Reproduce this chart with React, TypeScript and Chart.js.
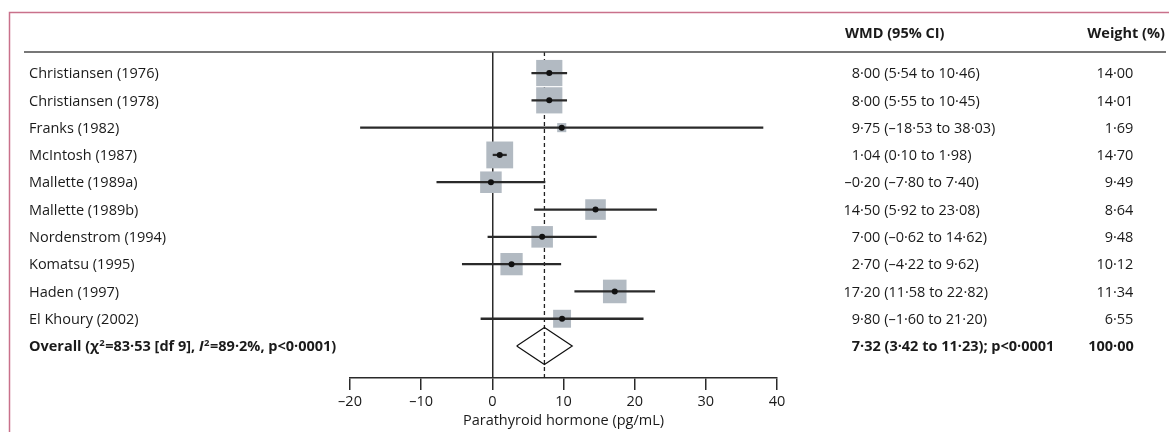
import React, { useEffect, useRef } from 'react';
import { Chart, registerables } from 'chart.js';

Chart.register(...registerables);

// ---------- data ----------
const studies = [
  'Christiansen (1976)',
  'Christiansen (1978)',
  'Franks (1982)',
  'McIntosh (1987)',
  'Mallette (1989a)',
  'Mallette (1989b)',
  'Nordenstrom (1994)',
  'Komatsu (1995)',
  'Haden (1997)',
  'El Khoury (2002)',
];
const wmd = [8.0, 8.0, 9.75, 1.04, -0.2, 14.5, 7.0, 2.7, 17.2, 9.8];
const ciLow = [5.54, 5.55, -18.53, 0.1, -7.8, 5.92, -0.62, -4.22, 11.58, -1.6];
const ciHigh = [10.46, 10.45, 38.03, 1.98, 7.4, 23.08, 14.62, 9.62, 22.82, 21.2];
const weights = [14.0, 14.01, 1.69, 14.7, 9.49, 8.64, 9.48, 10.12, 11.34, 6.55];

const overallEst = 7.32;
const overallLow = 3.42;
const overallHigh = 11.23;
const overallWeight = 100.0;
const overallP = 'p<0·0001';
const overallChi = '83·53';
const overallDf = '9';
const overallI2 = '89·2%';
const overallHetP = 'p<0·0001';

const xTicks = [-20, -10, 0, 10, 20, 30, 40];
const axisTitle = 'Parathyroid hormone (pg/mL)';
const headerWmd = 'WMD (95% CI)';
const headerWeight = 'Weight (%)';

// ---------- layout / style ----------
const W = 1169;
const H = 432;
const PAD_LEFT = 350;
const PAD_RIGHT = W - 777;
const PAD_TOP = 52;
const X_AXIS_H = 54;
const Y_MIN = -0.77;
const Y_MAX = 11.17;
const SQUARE_SCALE = 7; // px side per sqrt(weight)
const DIAMOND_HALF = 0.68; // rows
const FONT = "'Open Sans', sans-serif";
const FS = 14.5;
const TEXT = '#1a1a1a';
const LINE = '#2a2a2a';
const BOX = '#b2bac2';
const FRAME = '#c9718b';

const fmt = (n: number) => n.toFixed(2).replace('.', '·').replace('-', '–');

const textPlugin = {
  id: 'forestText',
  afterDraw(chart: any) {
    const ctx = chart.ctx as CanvasRenderingContext2D;
    const ys = chart.scales.y;
    ctx.save();
    // frame
    ctx.strokeStyle = FRAME;
    ctx.lineWidth = 1.5;
    ctx.beginPath();
    ctx.moveTo(9.5, H);
    ctx.lineTo(9.5, 12.5);
    ctx.lineTo(W, 12.5);
    ctx.stroke();
    // separator
    ctx.strokeStyle = '#4a4a4a';
    ctx.lineWidth = 1.5;
    ctx.beginPath();
    ctx.moveTo(24, 52);
    ctx.lineTo(1166, 52);
    ctx.stroke();

    ctx.fillStyle = TEXT;
    ctx.textBaseline = 'alphabetic';
    const bold = `bold ${FS}px ${FONT}`;
    const reg = `${FS}px ${FONT}`;
    // headers
    ctx.font = bold;
    ctx.textAlign = 'left';
    ctx.fillText(headerWmd, 845, 38);
    ctx.textAlign = 'right';
    ctx.fillText(headerWeight, 1165, 38);

    const DEC_WMD = 860;
    const DEC_W = 1113;
    const drawDec = (s: string, xDec: number, y: number) => {
      const k = s.indexOf('·');
      ctx.textAlign = 'right';
      ctx.fillText(s.slice(0, k), xDec, y);
      ctx.textAlign = 'left';
      ctx.fillText(s.slice(k), xDec, y);
    };

    studies.forEach((name, i) => {
      const y = ys.getPixelForValue(i) + 5.2;
      ctx.font = reg;
      ctx.textAlign = 'left';
      ctx.fillText(name, 29, y);
      drawDec(`${fmt(wmd[i])} (${fmt(ciLow[i])} to ${fmt(ciHigh[i])})`, DEC_WMD, y);
      drawDec(fmt(weights[i]), DEC_W, y);
    });

    // overall row
    const oi = studies.length;
    const y = ys.getPixelForValue(oi) + 5.2;
    ctx.textAlign = 'left';
    let x = 29;
    const seg = (t: string, font: string, dy = 0) => {
      ctx.font = font;
      ctx.fillText(t, x, y + dy);
      x += ctx.measureText(t).width;
    };
    const sup = `bold 9.5px ${FONT}`;
    seg('Overall (χ', bold);
    x += 0.5;
    seg('2', sup, -5.5);
    x += 0.5;
    seg(`=${overallChi} [df ${overallDf}], `, bold);
    seg('I', `italic bold ${FS}px ${FONT}`);
    x += 0.5;
    seg('2', sup, -5.5);
    x += 0.5;
    seg(`=${overallI2}, ${overallHetP})`, bold);
    ctx.font = bold;
    drawDec(`${fmt(overallEst)} (${fmt(overallLow)} to ${fmt(overallHigh)}); ${overallP}`, DEC_WMD, y);
    drawDec(fmt(overallWeight), DEC_W, y);
    ctx.restore();
  },
};

export default function App() {
  const ref = useRef<HTMLCanvasElement | null>(null);
  useEffect(() => {
    if (!ref.current) return;
    Chart.defaults.font.family = FONT;
    Chart.defaults.font.size = FS;
    Chart.defaults.color = TEXT;
    const oi = studies.length;
    const chart = new Chart(ref.current, {
      type: 'scatter',
      data: {
        datasets: [
          {
            type: 'line',
            label: 'overall line',
            data: [
              { x: overallEst, y: Y_MIN },
              { x: overallEst, y: Y_MAX },
            ],
            borderColor: '#222',
            borderWidth: 1.3,
            borderDash: [4, 3],
            pointRadius: 0,
            fill: false,
            order: 4,
          } as any,
          {
            type: 'scatter',
            label: 'weights',
            data: studies.map((_, i) => ({ x: wmd[i], y: i })),
            pointStyle: 'rect',
            pointRadius: weights.map((w) => (SQUARE_SCALE * Math.sqrt(w)) / Math.SQRT2),
            backgroundColor: BOX,
            borderWidth: 0,
            order: 3,
          } as any,
          {
            type: 'bar',
            label: 'ci',
            indexAxis: 'y',
            data: studies.map((_, i) => ({ y: i, x: [ciLow[i], ciHigh[i]] })),
            backgroundColor: LINE,
            borderWidth: 0,
            barThickness: 1.6,
            grouped: false,
            order: 2,
          } as any,
          {
            type: 'line',
            label: 'diamond',
            data: [
              { x: overallLow, y: oi },
              { x: overallEst, y: oi - DIAMOND_HALF },
              { x: overallHigh, y: oi },
              { x: overallEst, y: oi + DIAMOND_HALF },
              { x: overallLow, y: oi },
            ],
            borderColor: '#111',
            borderWidth: 1.2,
            pointRadius: 0,
            fill: false,
            tension: 0,
            order: 1,
          } as any,
          {
            type: 'scatter',
            label: 'estimates',
            data: studies.map((_, i) => ({ x: wmd[i], y: i })),
            pointStyle: 'circle',
            pointRadius: 3,
            backgroundColor: '#111',
            borderWidth: 0,
            order: 0,
          } as any,
        ],
      },
      options: {
        animation: false,
        responsive: false,
        devicePixelRatio: 1,
        events: [],
        layout: { padding: { left: PAD_LEFT, right: PAD_RIGHT, top: PAD_TOP, bottom: 0 } },
        plugins: { legend: { display: false }, tooltip: { enabled: false } },
        scales: {
          x: {
            type: 'linear',
            min: xTicks[0],
            max: xTicks[xTicks.length - 1],
            offset: false,
            afterBuildTicks: (s: any) => {
              s.ticks = xTicks.map((v) => ({ value: v }));
            },
            afterFit: (s: any) => {
              s.height = X_AXIS_H;
            },
            ticks: {
              padding: 3,
              color: TEXT,
              font: { size: FS, family: FONT },
              maxRotation: 0,
              callback: (v: any) => (Number(v) < 0 ? '–' + Math.abs(Number(v)) : String(v)),
            },
            grid: {
              offset: false,
              color: (c: any) => (c.tick && c.tick.value === 0 ? LINE : 'rgba(0,0,0,0)'),
              lineWidth: 1.5,
              drawTicks: true,
              tickLength: 12,
              tickColor: LINE,
              tickWidth: 1.5,
            },
            border: { display: true, color: LINE, width: 1.5 },
            title: {
              display: true,
              text: axisTitle,
              color: TEXT,
              font: { size: FS, family: FONT },
              padding: { top: 0, bottom: 2 },
            },
          },
          y: {
            type: 'linear',
            reverse: true,
            min: Y_MIN,
            max: Y_MAX,
            offset: false,
            grid: { offset: false },
            display: false,
          },
        },
      } as any,
      plugins: [textPlugin],
    });
    return () => chart.destroy();
  }, []);
  return (
    <div style={{ position: 'absolute', left: 0, top: 0, width: W, height: H, background: '#fff' }}>
      <canvas ref={ref} width={W} height={H} style={{ display: 'block' }} />
    </div>
  );
}
